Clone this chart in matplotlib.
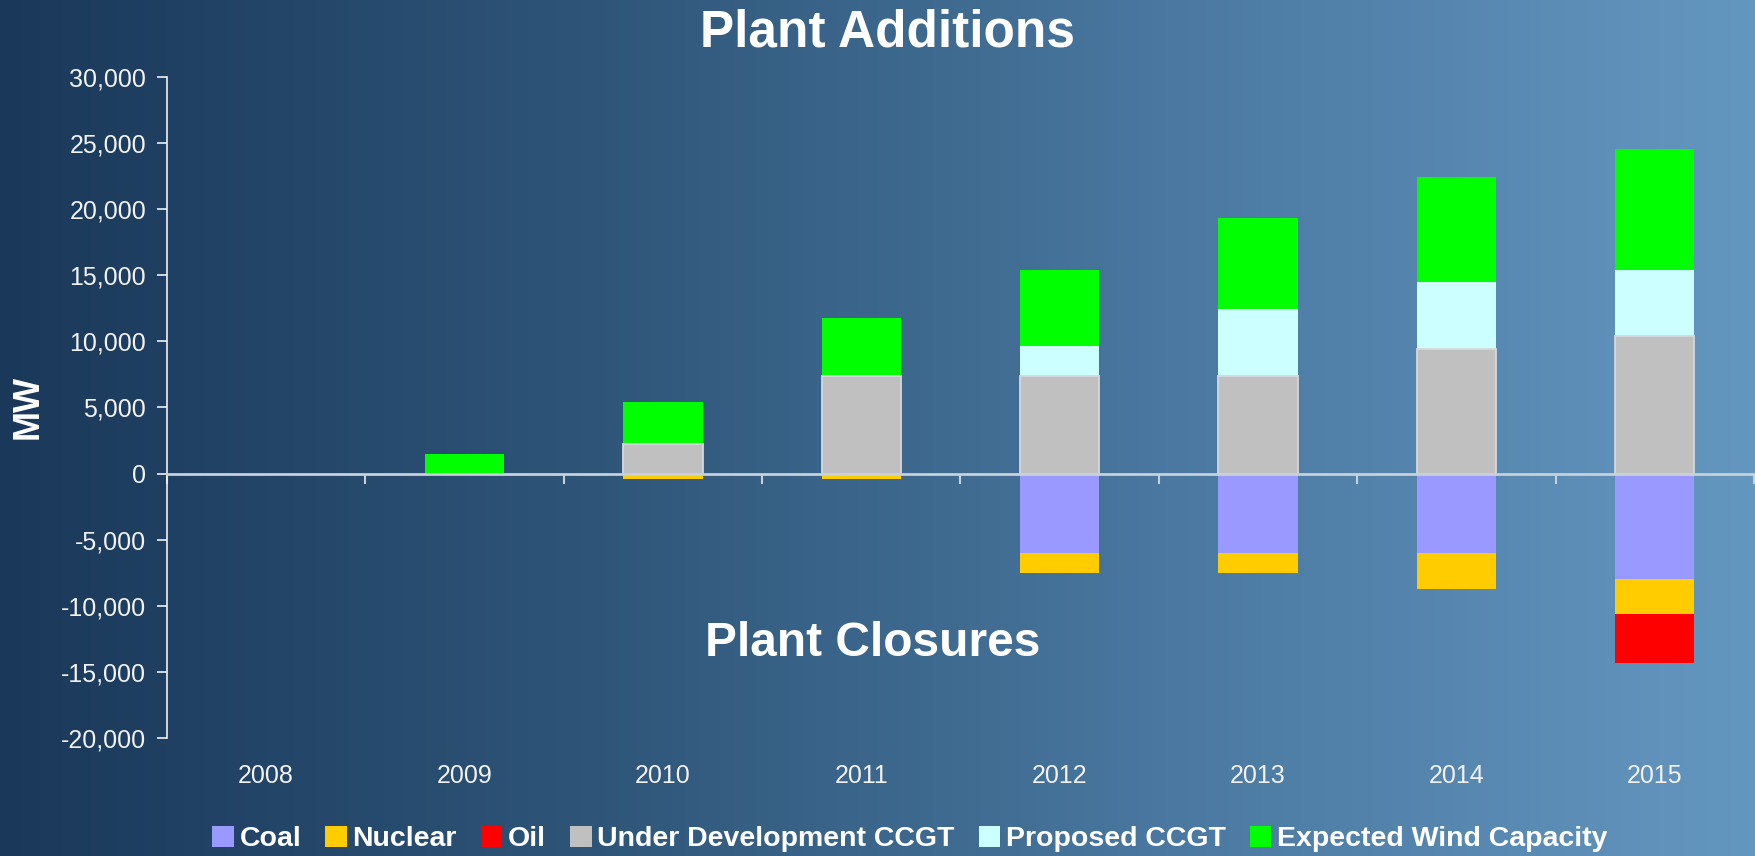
import numpy as np
import matplotlib
matplotlib.use("Agg")
import matplotlib.pyplot as plt
from matplotlib.colors import LinearSegmentedColormap
from matplotlib.ticker import FuncFormatter, FixedLocator
import matplotlib.transforms as mtransforms

# ---------------- data ----------------
years = ["2008", "2009", "2010", "2011", "2012", "2013", "2014", "2015"]
coal = [0, 0, 0, 0, -6000, -6000, -6000, -8000]
nuclear = [0, 0, -400, -400, -1500, -1500, -2700, -2600]
oil = [0, 0, 0, 0, 0, 0, 0, -3700]
under_dev_ccgt = [0, 0, 2250, 7350, 7350, 7350, 9400, 10400]
proposed_ccgt = [0, 0, 0, 0, 2330, 5070, 5070, 4980]
expected_wind = [0, 1500, 3200, 4450, 5750, 6950, 8000, 9200]

series_labels = ["Coal", "Nuclear", "Oil", "Under Development CCGT",
                 "Proposed CCGT", "Expected Wind Capacity"]
colors = {"Coal": "#9999ff", "Nuclear": "#ffcc00", "Oil": "#ff0000",
          "Under Development CCGT": "#c0c0c0", "Proposed CCGT": "#ccffff",
          "Expected Wind Capacity": "#00ff00"}

plt.rcParams["font.family"] = ["Liberation Sans", "DejaVu Sans"]

W, H = 1756, 856
fig = plt.figure(figsize=(W / 100, H / 100), dpi=100)

# background gradient
bg = fig.add_axes([0, 0, 1, 1], zorder=-10)
cmap = LinearSegmentedColormap.from_list("bg", ["#1a385a", "#2e5578", "#4a78a0", "#6497c0"])
grad = np.linspace(0, 1, 512).reshape(1, -1)
bg.imshow(grad, aspect="auto", cmap=cmap, extent=[0, 1, 0, 1])
bg.set_axis_off()

ax = fig.add_axes([167 / W, 1 - 738 / H, (1754 - 167) / W, (738 - 77) / H])
ax.set_facecolor("none")

x = np.arange(len(years))
bw = 0.4
coal_a = np.array(coal, float)
nuc_a = np.array(nuclear, float)
oil_a = np.array(oil, float)
ud_a = np.array(under_dev_ccgt, float)
pr_a = np.array(proposed_ccgt, float)
wi_a = np.array(expected_wind, float)

ud_edges = ["#d4d8dc" if v > 0 else "none" for v in ud_a]

h = {}
h["Coal"] = ax.bar(x, coal_a, bw, color=colors["Coal"], zorder=2)
h["Nuclear"] = ax.bar(x, nuc_a, bw, bottom=coal_a, color=colors["Nuclear"], zorder=2)
h["Oil"] = ax.bar(x, oil_a, bw, bottom=coal_a + nuc_a, color=colors["Oil"], zorder=2)
h["Under Development CCGT"] = ax.bar(x, ud_a, bw, color=colors["Under Development CCGT"],
                                     edgecolor=ud_edges, linewidth=1.3, zorder=2.5)
h["Proposed CCGT"] = ax.bar(x, pr_a, bw, bottom=ud_a, color=colors["Proposed CCGT"], zorder=2)
h["Expected Wind Capacity"] = ax.bar(x, wi_a, bw, bottom=ud_a + pr_a,
                                     color=colors["Expected Wind Capacity"], zorder=2)

ax.set_xlim(-0.5, len(years) - 0.5)
ax.set_ylim(-20000, 30000)
ax.yaxis.set_major_locator(FixedLocator(np.arange(-20000, 30001, 5000)))
ax.yaxis.set_major_formatter(FuncFormatter(lambda v, p: f"{v:,.0f}"))

for s in ["top", "right"]:
    ax.spines[s].set_visible(False)
ax.spines["left"].set_color("#f0f0f0")
ax.spines["left"].set_linewidth(1.2)
ax.spines["bottom"].set_position(("data", 0))
ax.spines["bottom"].set_color("#c8d0d8")
ax.spines["bottom"].set_linewidth(2)
ax.spines["bottom"].set_zorder(5)

ax.xaxis.set_major_locator(FixedLocator(np.arange(-0.5, len(years), 1.0)))
ax.tick_params(axis="x", which="major", direction="out", length=7, width=1.5,
               color="#c8d0d8", labelbottom=False)
ax.tick_params(axis="y", direction="out", length=7, width=1.2, color="#f0f0f0",
               labelcolor="#f2f2f2", labelsize=18, pad=8)

trans = mtransforms.blended_transform_factory(ax.transData, ax.transAxes)
for xi, yr in zip(x, years):
    ax.text(xi, -0.058, yr, transform=trans, ha="center", va="center",
            fontsize=18, color="#f2f2f2")

fig.text(888 / W, 1 - 33 / H, "Plant Additions", ha="center", va="center",
         fontsize=37, fontweight="bold", color="white")
fig.text(873 / W, 1 - 643 / H, "Plant Closures", ha="center", va="center",
         fontsize=34.5, fontweight="bold", color="white")
fig.text(28 / W, 1 - 407 / H, "MW", rotation=90, ha="center", va="center",
         fontsize=26, fontweight="bold", color="white")

handles = [h[k] for k in series_labels]
leg = fig.legend(handles, series_labels, loc="center", bbox_to_anchor=(910 / W, 1 - 839 / H),
                 ncol=6, frameon=False, handlelength=0.75, handleheight=0.8,
                 handletextpad=0.2, columnspacing=0.85,
                 prop={"weight": "bold", "size": 20.5})
for t in leg.get_texts():
    t.set_color("white")

fig.savefig("out.png", dpi=100)
